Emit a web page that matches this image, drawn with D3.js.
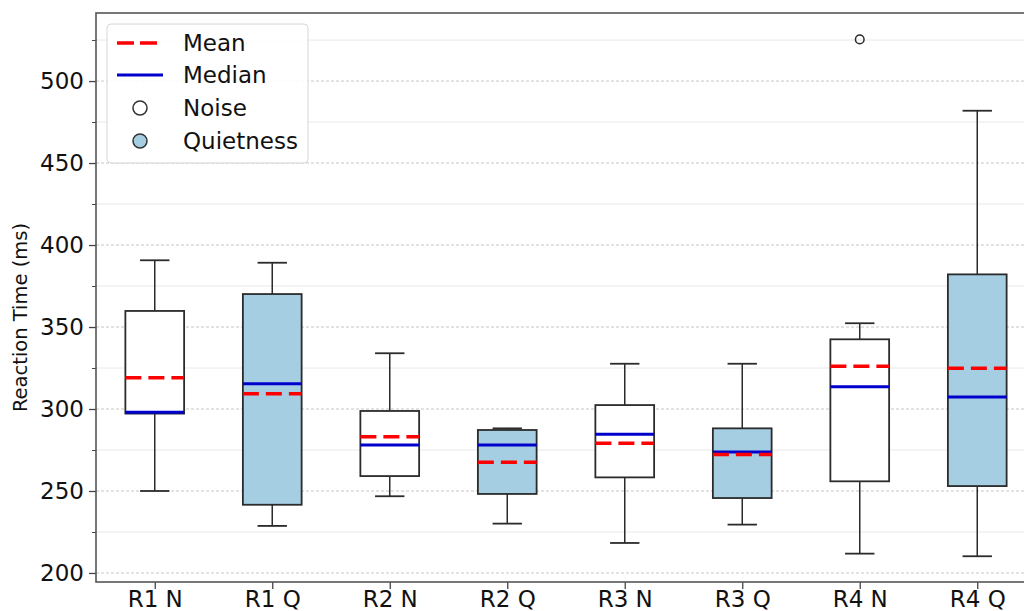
<!DOCTYPE html>
<html>
<head>
<meta charset="utf-8">
<script src="https://cdn.jsdelivr.net/npm/d3@7"></script>
<style>
  html, body { margin: 0; padding: 0; background: #fff; }
  svg { display: block; font-family: "DejaVu Sans", sans-serif; }
</style>
</head>
<body>
<svg id="chart" width="1024" height="611"></svg>
<script>
// ---- data ----
const categories  = ["R1 N", "R1 Q", "R2 N", "R2 Q", "R3 N", "R3 Q", "R4 N", "R4 Q"];
const groups      = ["Noise", "Quietness", "Noise", "Quietness", "Noise", "Quietness", "Noise", "Quietness"];
const whiskerLow  = [250.0, 228.7, 246.8, 230.1, 218.3, 229.5, 211.8, 210.2];
const q1          = [297.2, 241.6, 259.1, 248.2, 258.3, 245.7, 255.9, 253.0];
const median      = [298.0, 315.4, 278.0, 278.0, 284.6, 273.8, 313.6, 307.3];
const q3          = [359.8, 370.1, 298.8, 287.2, 302.4, 288.2, 342.5, 382.1];
const whiskerHigh = [390.7, 389.2, 334.0, 288.2, 327.6, 327.6, 352.3, 481.9];
const means       = [319.1, 309.3, 283.1, 267.5, 279.1, 272.2, 326.0, 324.8];
const fliers      = [[], [], [], [], [], [], [525.4], []];
const majorTicks  = [200, 250, 300, 350, 400, 450, 500];
const minorTicks  = [225, 275, 325, 375, 425, 475, 525];
const legendItems = ["Mean", "Median", "Noise", "Quietness"];

const fillColor = { "Noise": "#ffffff", "Quietness": "#a6cee3" };

const svg = d3.select("#chart");

const x = d3.scaleLinear().domain([0.5, 8.5]).range([96, 1036]);
const y = d3.scaleLinear().domain([194.5, 541.5]).range([582, 13]);
const step = x(2) - x(1);
const boxW = step * 0.5;
const capW = boxW * 0.5;

const plot = svg.append("g");

// minor grid
plot.selectAll("line.minor").data(minorTicks).join("line")
  .attr("x1", x(0.5)).attr("x2", x(8.5))
  .attr("y1", d => y(d)).attr("y2", d => y(d))
  .attr("stroke", "#e8e8e8").attr("stroke-width", 1);
// major grid
plot.selectAll("line.major").data(majorTicks).join("line")
  .attr("x1", x(0.5)).attr("x2", x(8.5))
  .attr("y1", d => y(d)).attr("y2", d => y(d))
  .attr("stroke", "#b8b8b8").attr("stroke-width", 0.8)
  .attr("stroke-dasharray", "3,2");

const data = categories.map((c, i) => ({
  c, i, pos: i + 1, g: groups[i],
  lo: whiskerLow[i], q1: q1[i], med: median[i], q3: q3[i], hi: whiskerHigh[i],
  mean: means[i], fl: fliers[i]
}));

const bx = plot.selectAll("g.box").data(data).join("g");
const ink = "#2b2b2b";
// whiskers
bx.append("line")
  .attr("x1", d => x(d.pos)).attr("x2", d => x(d.pos))
  .attr("y1", d => y(d.q3)).attr("y2", d => y(d.hi))
  .attr("stroke", ink).attr("stroke-width", 1.5);
bx.append("line")
  .attr("x1", d => x(d.pos)).attr("x2", d => x(d.pos))
  .attr("y1", d => y(d.q1)).attr("y2", d => y(d.lo))
  .attr("stroke", ink).attr("stroke-width", 1.5);
// caps
bx.append("line")
  .attr("x1", d => x(d.pos) - capW / 2).attr("x2", d => x(d.pos) + capW / 2)
  .attr("y1", d => y(d.hi)).attr("y2", d => y(d.hi))
  .attr("stroke", ink).attr("stroke-width", 1.8);
bx.append("line")
  .attr("x1", d => x(d.pos) - capW / 2).attr("x2", d => x(d.pos) + capW / 2)
  .attr("y1", d => y(d.lo)).attr("y2", d => y(d.lo))
  .attr("stroke", ink).attr("stroke-width", 1.8);
// box
bx.append("rect")
  .attr("x", d => x(d.pos) - boxW / 2).attr("width", boxW)
  .attr("y", d => y(d.q3)).attr("height", d => y(d.q1) - y(d.q3))
  .attr("fill", d => fillColor[d.g])
  .attr("stroke", ink).attr("stroke-width", 1.8);
// median
bx.append("line")
  .attr("x1", d => x(d.pos) - boxW / 2).attr("x2", d => x(d.pos) + boxW / 2)
  .attr("y1", d => y(d.med)).attr("y2", d => y(d.med))
  .attr("stroke", "#0000cc").attr("stroke-width", 3);
// mean (dashed)
bx.append("line")
  .attr("x1", d => x(d.pos) - boxW / 2).attr("x2", d => x(d.pos) + boxW / 2)
  .attr("y1", d => y(d.mean)).attr("y2", d => y(d.mean))
  .attr("stroke", "#ff0000").attr("stroke-width", 3.5)
  .attr("stroke-dasharray", "16,7");
// fliers
bx.each(function(d) {
  d3.select(this).selectAll("circle").data(d.fl).join("circle")
    .attr("cx", x(d.pos)).attr("cy", v => y(v)).attr("r", 4.3)
    .attr("fill", "none").attr("stroke", ink).attr("stroke-width", 1.5);
});

// axes
const yAxis = d3.axisLeft(y).tickValues(majorTicks).tickSize(7).tickPadding(5);
const gy = svg.append("g").attr("transform", "translate(96,0)").call(yAxis);
gy.select(".domain").remove();
gy.selectAll(".tick line").attr("stroke", "#444").attr("stroke-width", 1.3);
gy.selectAll(".tick text").attr("font-size", 23).attr("fill", "#111")
  .attr("font-family", "DejaVu Sans");
const yMinor = d3.axisLeft(y).tickValues(minorTicks).tickSize(4).tickFormat("");
const gym = svg.append("g").attr("transform", "translate(96,0)").call(yMinor);
gym.select(".domain").remove();
gym.selectAll(".tick line").attr("stroke", "#444").attr("stroke-width", 1);

const xAxis = d3.axisBottom(x).tickValues(data.map(d => d.pos))
  .tickFormat((d, i) => categories[i]).tickSize(7).tickPadding(2);
const gx = svg.append("g").attr("transform", "translate(0,582)").call(xAxis);
gx.select(".domain").remove();
gx.selectAll(".tick line").attr("stroke", "#444").attr("stroke-width", 1.3);
gx.selectAll(".tick text").attr("font-size", 23).attr("fill", "#111")
  .attr("font-family", "DejaVu Sans");

// spines
svg.append("rect")
  .attr("x", x(0.5)).attr("y", y(541.5))
  .attr("width", x(8.5) - x(0.5)).attr("height", y(194.5) - y(541.5))
  .attr("fill", "none").attr("stroke", "#555").attr("stroke-width", 1.6);

// y label
svg.append("text")
  .attr("transform", `translate(27,${(y(541.5) + y(194.5)) / 2 + 20}) rotate(-90)`)
  .attr("text-anchor", "middle")
  .attr("font-size", 19.5).attr("fill", "#111")
  .text("Reaction Time (ms)");

// legend
const lg = svg.append("g").attr("transform", "translate(107,24)");
lg.append("rect").attr("width", 201).attr("height", 139).attr("rx", 4)
  .attr("fill", "#fff").attr("fill-opacity", 0.85)
  .attr("stroke", "#d6d6d6").attr("stroke-width", 1);
const rowY = [19, 51, 84, 117];
legendItems.forEach((name, i) => {
  const gy0 = rowY[i];
  if (name === "Mean") {
    lg.append("line").attr("x1", 10).attr("x2", 56).attr("y1", gy0).attr("y2", gy0)
      .attr("stroke", "#ff0000").attr("stroke-width", 3.5).attr("stroke-dasharray", "17,6");
  } else if (name === "Median") {
    lg.append("line").attr("x1", 10).attr("x2", 56).attr("y1", gy0).attr("y2", gy0)
      .attr("stroke", "#0000cc").attr("stroke-width", 3);
  } else {
    lg.append("circle").attr("cx", 33).attr("cy", gy0).attr("r", 7)
      .attr("fill", name === "Noise" ? fillColor.Noise : fillColor.Quietness)
      .attr("stroke", "#333").attr("stroke-width", 1.5);
  }
  lg.append("text").attr("x", 76).attr("y", gy0).attr("dy", "0.36em")
    .attr("font-size", 23).attr("fill", "#111").text(name);
});
</script>
</body>
</html>
